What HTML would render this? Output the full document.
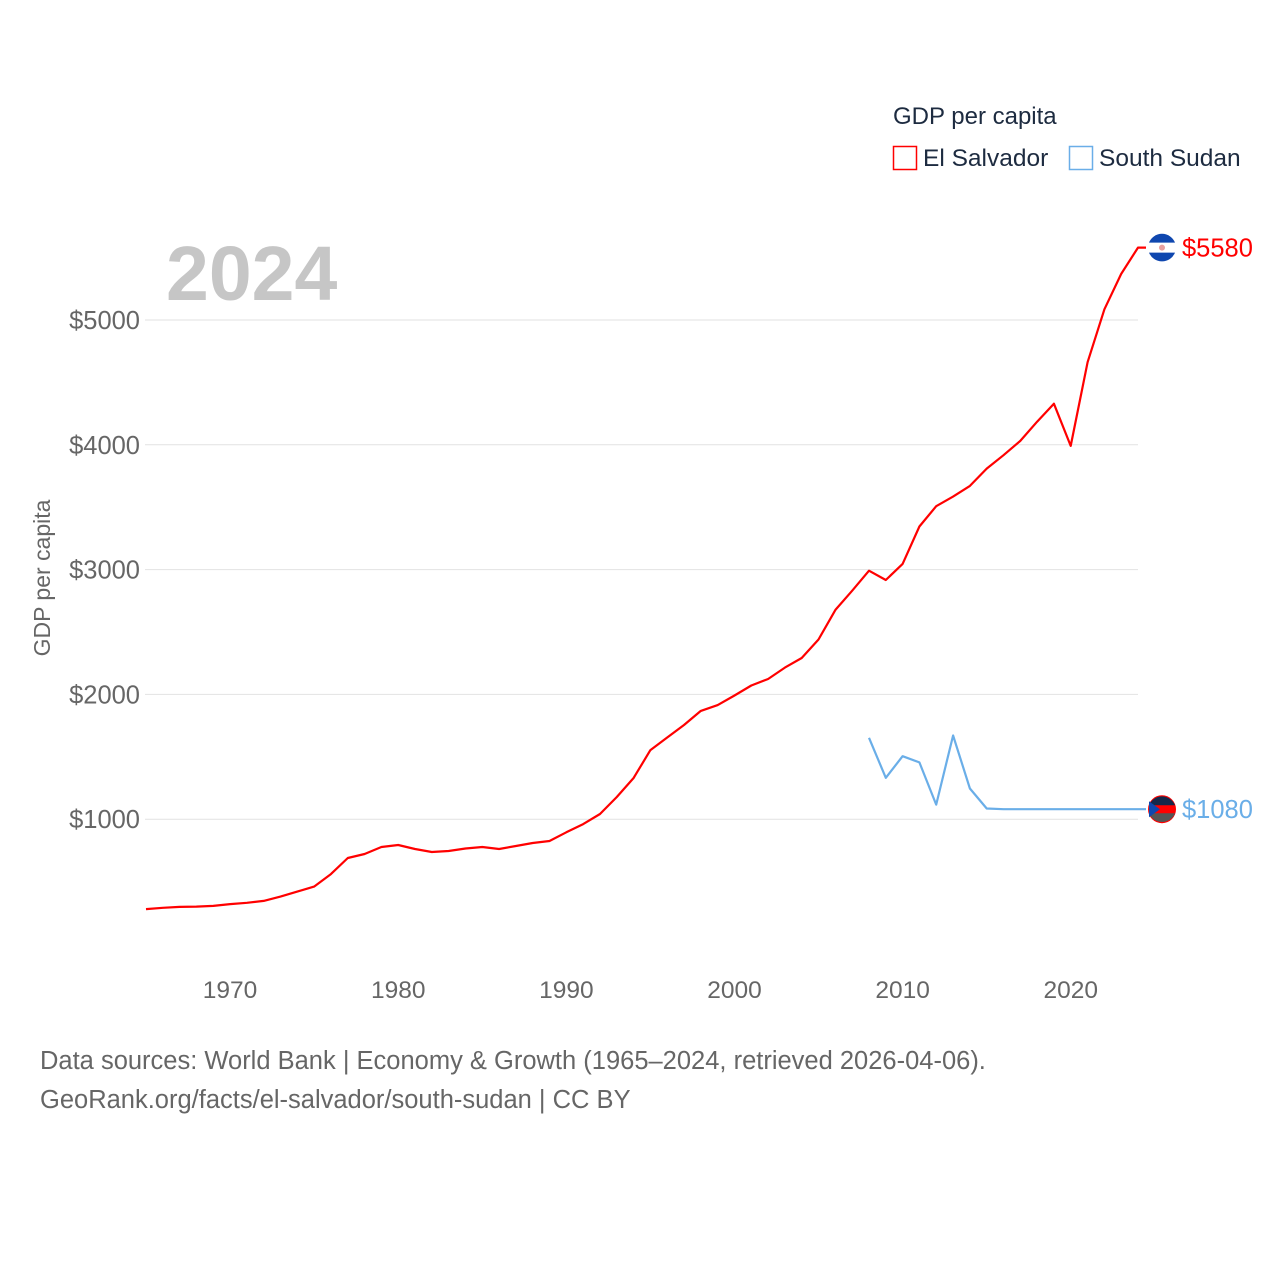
<!DOCTYPE html>
<html><head><meta charset="utf-8"><style>
body{margin:0;background:#fff;}
svg{display:block;font-family:"Liberation Sans",sans-serif;}
</style></head><body>
<svg id="chart" width="1280" height="1280" viewBox="0 0 1280 1280">
<g id="grid"></g>
<g id="yticks"></g>
<g id="xticks"></g>
<text x="166" y="300" font-size="77" font-weight="bold" fill="#c6c6c6">2024</text>
<text transform="translate(50,578) rotate(-90)" text-anchor="middle" font-size="23" fill="#666">GDP per capita</text>
<g id="series"></g>
<g>
<text x="893" y="124" font-size="24" fill="#1d2b40">GDP per capita</text>
<g>
<rect x="893.5" y="146.5" width="23" height="23" fill="none" stroke="#ff0000" stroke-width="1.5"/>
<text x="923" y="166" font-size="24.5" fill="#1d2b40">El Salvador</text></g>
<g>
<rect x="1069.5" y="146.5" width="23" height="23" fill="none" stroke="#6aaee8" stroke-width="1.5"/>
<text x="1099" y="166" font-size="24.5" fill="#1d2b40">South Sudan</text></g>
</g>
<text x="40" y="1069" font-size="25.5" fill="#666">Data sources: World Bank | Economy &amp; Growth (1965–2024, retrieved 2026-04-06).</text>
<text x="40" y="1108" font-size="25.5" fill="#666">GeoRank.org/facts/el-salvador/south-sudan | CC BY</text>
</svg>
<script>
const years=[];for(let y=1965;y<=2024;y++)years.push(y);
const elSalvador=[280,290,297,300,305,320,330,345,380,420,460,560,689,721,777,793,761,737,745,765,777,761,785,809,825,895,961,1042,1178,1330,1554,1655,1755,1868,1914,1991,2071,2123,2215,2292,2440,2677,2831,2991,2917,3046,3345,3508,3585,3671,3809,3917,4031,4185,4329,3991,4662,5086,5369,5580];
const ssYears=[2008,2009,2010,2011,2012,2013,2014,2015,2016,2017,2018,2019,2020,2021,2022,2023,2024];
const southSudan=[1652,1332,1505,1455,1117,1671,1246,1086,1080,1080,1080,1080,1080,1080,1080,1080,1080];
const yTicks=[1000,2000,3000,4000,5000];
const xTicks=[1970,1980,1990,2000,2010,2020];
const NS='http://www.w3.org/2000/svg';
const X=y=>146+(y-1965)*(1138-146)/(2024-1965);
const Y=v=>944-v*0.1248;
function mk(tag,attrs,parent){const e=document.createElementNS(NS,tag);for(const k in attrs)e.setAttribute(k,attrs[k]);parent.appendChild(e);return e;}
const grid=document.getElementById('grid'),yt=document.getElementById('yticks'),xt=document.getElementById('xticks'),ser=document.getElementById('series');
yTicks.forEach(v=>{
 const l=mk('line',{x1:145,x2:1138,y1:Y(v),y2:Y(v),stroke:'#e2e2e2','stroke-width':1},grid);
 
 
 const t=mk('text',{x:140,y:Y(v)+9,'text-anchor':'end','font-size':25.5,fill:'#666'},yt);
 t.textContent='$'+v;
 
 
});
xTicks.forEach(y=>{
 const t=mk('text',{x:X(y),y:998,'text-anchor':'middle','font-size':24.5,fill:'#666'},xt);
 t.textContent=y;
 
 
});
function line(xs,vs,color,name){
 const d=vs.map((v,i)=>(i?'L':'M')+X(xs[i]).toFixed(1)+','+Y(v).toFixed(1)).join('')+'L'+(X(xs[xs.length-1])+8)+','+Y(vs[vs.length-1]).toFixed(1);
 const p=mk('path',{d:d,fill:'none',stroke:color,'stroke-width':2.2,'stroke-linejoin':'round'},ser);
 
 
}
line(years,elSalvador,'#ff0000','el-salvador');
line(ssYears,southSudan,'#6aaee8','south-sudan');
function endLabel(v,color,name,flag){
 const cy=Y(v);
 const g=mk('g',{},ser);
 
 
 if(flag==='sv'){
  mk('circle',{cx:1162,cy:cy,r:14,fill:'#fff'},g);
  mk('path',{d:`M1149,${cy-5}A14,14 0 0 1 1175,${cy-5}Z`,fill:'#0f47af'},g);
  mk('path',{d:`M1149,${cy+5}A14,14 0 0 0 1175,${cy+5}Z`,fill:'#0f47af'},g);
  mk('circle',{cx:1162,cy:cy,r:3,fill:'#e8a0a0'},g);
 }else{
  mk('circle',{cx:1162,cy:cy,r:14,fill:'#ff0000'},g);
  mk('path',{d:`M1149,${cy-4}A14,14 0 0 1 1175,${cy-4}Z`,fill:'#14284a'},g);
  mk('path',{d:`M1149,${cy+4}A14,14 0 0 0 1175,${cy+4}Z`,fill:'#555'},g);
  mk('path',{d:`M1149,${cy-8}L1160,${cy}L1149,${cy+8}Z`,fill:'#0f47af'},g);
 }
 const t=mk('text',{x:1182,y:cy+9,'font-size':25.5,fill:color},g);
 t.textContent='$'+v;
}
endLabel(elSalvador[elSalvador.length-1],'#ff0000','el-salvador','sv');
endLabel(southSudan[southSudan.length-1],'#6aaee8','south-sudan','ss');
</script>
</body></html>
